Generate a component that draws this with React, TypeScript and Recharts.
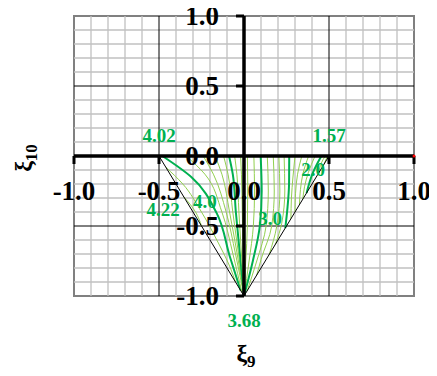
import React from 'react';
import {
  ComposedChart,
  Line,
  XAxis,
  YAxis,
  ReferenceLine,
  ReferenceDot,
  ReferenceArea,
} from 'recharts';

// ---------- axes / grid ----------
const GRID_TICKS = [-0.9, -0.8, -0.7, -0.6, -0.4, -0.3, -0.2, -0.1, 0.1, 0.2, 0.3, 0.4, 0.6, 0.7, 0.8, 0.9];
const MAJOR_GRID = [-0.5, 0.5];
const AXIS_TICKS = [-1, -0.5, 0, 0.5, 1];
const X_TICK_LABELS = ['-1.0', '-0.5', '0.0', '0.5', '1.0'];
const Y_TICK_LABELS = ['-1.0', '-0.5', '0.0', '0.5', '1.0'];
const X_TICK_MARKS = [-1, -0.5, 0.5, 1];
const Y_TICK_MARKS = [-1, -0.5, 0.5, 1];
const X_TITLE = 'ξ';
const X_TITLE_SUB = '9';
const Y_TITLE = 'ξ';
const Y_TITLE_SUB = '10';

// ---------- triangle boundary ----------
const TRIANGLE = [
  [-0.5, 0],
  [0, -1],
  [0.5, 0],
];

// ---------- contour lines (x, y) ----------
const C42 = [[-0.355, -0.29], [-0.285, -0.4], [-0.25, -0.5]];
const C41 = [[-0.46, -0.08], [-0.36, -0.2], [-0.25, -0.4], [-0.16, -0.6], [-0.08, -0.8], [-0.05, -0.9]];
const C40 = [[-0.48, 0], [-0.31, -0.15], [-0.16, -0.41], [-0.083, -0.72], [-0.02, -0.96]];
const C39 = [[-0.34, 0], [-0.23, -0.13], [-0.13, -0.4], [-0.065, -0.7], [-0.012, -0.975]];
const C38 = [[-0.24, 0], [-0.18, -0.13], [-0.105, -0.4], [-0.05, -0.7], [0, -1]];
const C37 = [[-0.17, 0], [-0.13, -0.13], [-0.085, -0.4], [-0.04, -0.7], [0, -1]];
const C36 = [[-0.12, 0], [-0.094, -0.13], [-0.066, -0.4], [-0.032, -0.7], [0, -1]];
const C35 = [[-0.088, 0], [-0.066, -0.13], [-0.048, -0.4], [-0.024, -0.7], [0, -1]];
const C34 = [[-0.055, 0], [-0.042, -0.13], [-0.03, -0.4], [-0.015, -0.7], [0, -1]];
const C33 = [[-0.02, 0], [-0.015, -0.13], [-0.01, -0.4], [-0.005, -0.7], [0, -1]];
const C32 = [[0.02, 0], [0.022, -0.2], [0.02, -0.5], [0.01, -0.75], [0, -1]];
const C31 = [[0.058, 0], [0.062, -0.25], [0.055, -0.5], [0.03, -0.75], [0, -1]];
const C30 = [[0.098, 0], [0.104, -0.25], [0.093, -0.5], [0.052, -0.75], [0, -1]];
const C29 = [[0.137, 0], [0.143, -0.25], [0.13, -0.5], [0.075, -0.75], [0.018, -0.965]];
const C28 = [[0.172, 0], [0.178, -0.25], [0.163, -0.5], [0.1, -0.74], [0.075, -0.85]];
const C27 = [[0.205, 0], [0.211, -0.25], [0.193, -0.5], [0.148, -0.705]];
const C26 = [[0.236, 0], [0.24, -0.25], [0.222, -0.48], [0.185, -0.63]];
const C25 = [[0.266, 0], [0.265, -0.2], [0.255, -0.38], [0.243, -0.515]];
const C24 = [[0.3, 0], [0.288, -0.15], [0.279, -0.3], [0.276, -0.448]];
const C23 = [[0.34, 0], [0.315, -0.13], [0.303, -0.27], [0.3, -0.4]];
const C22 = [[0.38, 0], [0.346, -0.13], [0.332, -0.24], [0.326, -0.348]];
const C21 = [[0.418, 0], [0.378, -0.12], [0.356, -0.22], [0.346, -0.308]];
const C20 = [[0.455, 0], [0.405, -0.12], [0.368, -0.264]];
const C19 = [[0.478, 0], [0.455, -0.05], [0.44, -0.12]];
const C18 = [[0.492, 0], [0.482, -0.025], [0.47, -0.06]];

const CONTOUR_LEVELS = [4.2, 4.1, 4.0, 3.9, 3.8, 3.7, 3.6, 3.5, 3.4, 3.3, 3.2, 3.1, 3.0, 2.9, 2.8, 2.7, 2.6, 2.5, 2.4, 2.3, 2.2, 2.1, 2.0, 1.9, 1.8];
const CONTOUR_LINES = [C42, C41, C40, C39, C38, C37, C36, C35, C34, C33, C32, C31, C30, C29, C28, C27, C26, C25, C24, C23, C22, C21, C20, C19, C18];
const MAJOR_LEVELS = [4.0, 3.5, 3.0, 2.5, 2.0];

// ---------- value annotations ----------
const VALUE_TEXTS = ['4.02', '1.57', '4.22', '4.0', '3.0', '2.0', '3.68'];
const VALUE_X = [-0.5, 0.5, -0.476, -0.23, 0.153, 0.406, 0];
const VALUE_Y = [0.15, 0.15, -0.38, -0.32, -0.443, -0.093, -1.17];

const FONT = "'Liberation Serif', 'Times New Roman', serif";
const GREEN = '#00B050';
const LIGHT_GREEN = '#92D050';

const toPts = (a: number[][]) => a.map(([x, y]) => ({ x, y }));

export default function App() {
  return (
    <div style={{ marginLeft: -8, marginTop: -8, width: 437, height: 376 }}>
      <ComposedChart
        width={437}
        height={376}
        margin={{ top: 16, right: 23, bottom: 80, left: 74 }}
      >
        <XAxis
          type="number"
          dataKey="x"
          domain={[-1, 1]}
          allowDataOverflow
          height={0}
          tick={false}
          tickLine={false}
          axisLine={false}
        />
        <YAxis
          type="number"
          dataKey="y"
          domain={[-1, 1]}
          allowDataOverflow
          width={0}
          tick={false}
          tickLine={false}
          axisLine={false}
        />
        {GRID_TICKS.map((v) => (
          <ReferenceLine key={'gx' + v} x={v} stroke="#c0c0c0" strokeWidth={1.3} />
        ))}
        {GRID_TICKS.map((v) => (
          <ReferenceLine key={'gy' + v} y={v} stroke="#c0c0c0" strokeWidth={1.3} />
        ))}
        {MAJOR_GRID.map((v) => (
          <ReferenceLine key={'mx' + v} x={v} stroke="#000" strokeWidth={1} />
        ))}
        {MAJOR_GRID.map((v) => (
          <ReferenceLine key={'my' + v} y={v} stroke="#000" strokeWidth={1} />
        ))}
        <ReferenceArea x1={-1} x2={1} y1={-1} y2={1} fill="none" stroke="#808080" strokeWidth={2} />

        {CONTOUR_LINES.map((pts, i) => {
          const major = MAJOR_LEVELS.includes(CONTOUR_LEVELS[i]);
          return (
            <Line
              key={'c' + CONTOUR_LEVELS[i]}
              data={toPts(pts)}
              dataKey="y"
              type="monotoneY"
              stroke={major ? GREEN : LIGHT_GREEN}
              strokeWidth={major ? 2 : 1}
              dot={false}
              activeDot={false}
              isAnimationActive={false}
            />
          );
        })}
        <Line
          data={toPts(TRIANGLE)}
          dataKey="y"
          type="linear"
          stroke="#000"
          strokeWidth={1}
          dot={false}
          activeDot={false}
          isAnimationActive={false}
        />

        <ReferenceLine y={0} stroke="#000" strokeWidth={3.5} />
        <ReferenceLine x={0} stroke="#000" strokeWidth={3.5} />

        {X_TICK_MARKS.map((v) => (
          <ReferenceDot
            key={'xt' + v}
            x={v}
            y={0}
            r={0}
            ifOverflow="visible"
            shape={(p: any) => (
              <line x1={p.cx} y1={p.cy} x2={p.cx} y2={p.cy + 8} stroke="#000" strokeWidth={3} />
            )}
          />
        ))}
        {Y_TICK_MARKS.map((v) => (
          <ReferenceDot
            key={'yt' + v}
            x={0}
            y={v}
            r={0}
            ifOverflow="visible"
            shape={(p: any) => (
              <line x1={p.cx} y1={p.cy} x2={p.cx - 8} y2={p.cy} stroke="#000" strokeWidth={3} />
            )}
          />
        ))}
        <ReferenceDot x={1} y={0} r={1.5} fill="#ff0000" stroke="none" ifOverflow="visible" />

        {AXIS_TICKS.map((v, i) => (
          <ReferenceDot
            key={'xl' + v}
            x={v}
            y={0}
            r={0}
            ifOverflow="visible"
            shape={(p: any) => (
              <text
                x={p.cx}
                y={p.cy + 44}
                textAnchor="middle"
                fontFamily={FONT}
                fontWeight="bold"
                fontSize={27}
                fill="#000"
              >
                {X_TICK_LABELS[i]}
              </text>
            )}
          />
        ))}
        {AXIS_TICKS.map((v, i) => (
          <ReferenceDot
            key={'yl' + v}
            x={0}
            y={v}
            r={0}
            ifOverflow="visible"
            shape={(p: any) => (
              <text
                x={p.cx - 25}
                y={p.cy + 9}
                textAnchor="end"
                fontFamily={FONT}
                fontWeight="bold"
                fontSize={27}
                fill="#000"
              >
                {Y_TICK_LABELS[i]}
              </text>
            )}
          />
        ))}

        {VALUE_TEXTS.map((t, i) => (
          <ReferenceDot
            key={'v' + i}
            x={VALUE_X[i]}
            y={VALUE_Y[i]}
            r={0}
            ifOverflow="visible"
            shape={(p: any) => (
              <text
                x={p.cx}
                y={p.cy + 7}
                textAnchor="middle"
                fontFamily={FONT}
                fontWeight="bold"
                fontSize={19}
                fill={GREEN}
              >
                {t}
              </text>
            )}
          />
        ))}

        <ReferenceDot
          x={0}
          y={-1}
          r={0}
          ifOverflow="visible"
          shape={(p: any) => (
            <text
              x={p.cx + 2}
              y={p.cy + 65}
              textAnchor="middle"
              fontFamily={FONT}
              fontWeight="bold"
              fontSize={24}
              fill="#000"
            >
              {X_TITLE}
              <tspan fontSize={17} dy={6}>{X_TITLE_SUB}</tspan>
            </text>
          )}
        />
        <ReferenceDot
          x={-1}
          y={0}
          r={0}
          ifOverflow="visible"
          shape={(p: any) => (
            <text
              x={p.cx - 43}
              y={p.cy + 2}
              transform={`rotate(-90, ${p.cx - 43}, ${p.cy + 2})`}
              textAnchor="middle"
              fontFamily={FONT}
              fontWeight="bold"
              fontSize={24}
              fill="#000"
            >
              {Y_TITLE}
              <tspan fontSize={17} dy={6}>{Y_TITLE_SUB}</tspan>
            </text>
          )}
        />
      </ComposedChart>
    </div>
  );
}
